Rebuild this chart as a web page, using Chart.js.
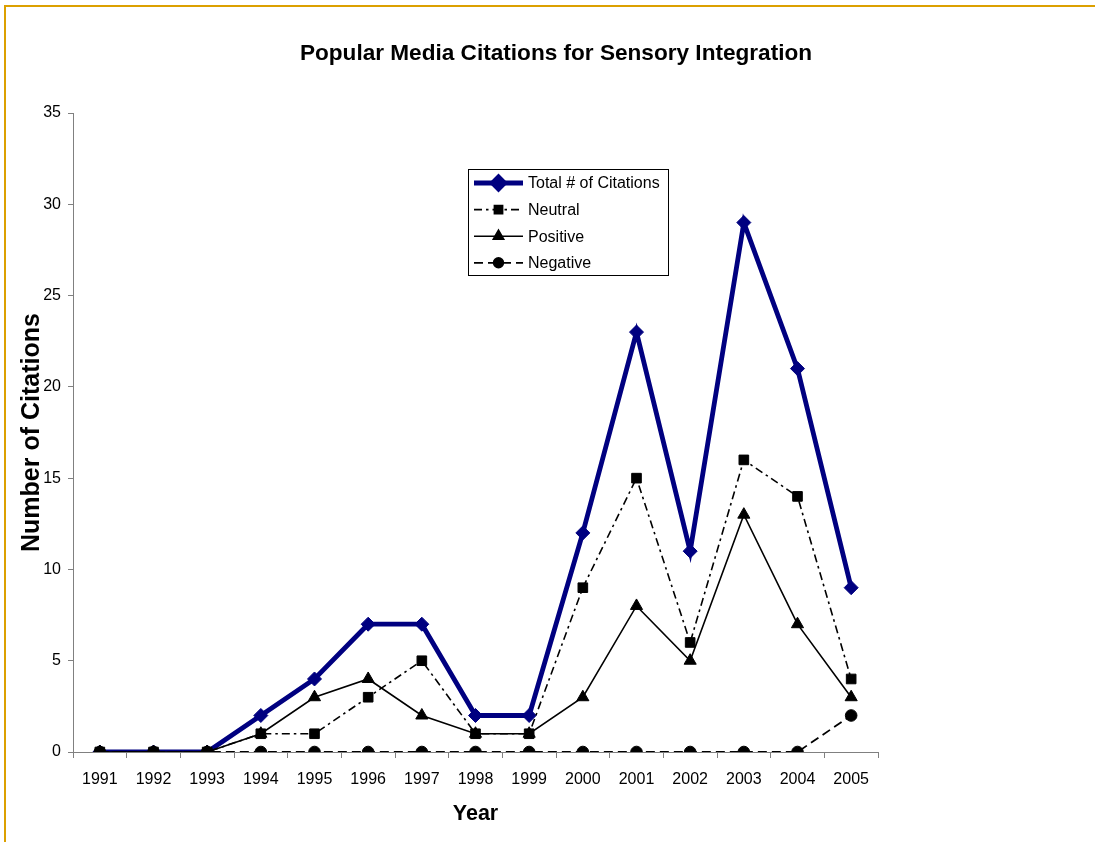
<!DOCTYPE html>
<html>
<head>
<meta charset="utf-8">
<title>Popular Media Citations for Sensory Integration</title>
<script src="https://cdn.jsdelivr.net/npm/chart.js@4/dist/chart.umd.min.js"></script>
<style>
  html, body { margin: 0; padding: 0; background: #ffffff; overflow: hidden; }
  #wrap { position: relative; width: 1095px; height: 842px; }
  #frame {
    position: absolute; left: 4px; top: 5px; width: 1200px; height: 1000px;
    border-left: 2px solid #DCA000; border-top: 2px solid #DCA000;
    pointer-events: none;
  }
  canvas { position: absolute; left: 0; top: 0; }
</style>
</head>
<body>
<div id="wrap">
  <canvas id="chart" width="1095" height="842"></canvas>
  <div id="frame"></div>
</div>
<script>
// Citation counts per year, by tone
const years = ['1991','1992','1993','1994','1995','1996','1997','1998','1999','2000','2001','2002','2003','2004','2005'];
const totalCitations = [0, 0, 0, 2, 4, 7, 7, 2, 2, 12, 23, 11, 29, 21, 9];
const neutralCitations = [0, 0, 0, 1, 1, 3, 5, 1, 1, 9, 15, 6, 16, 14, 4];
const positiveCitations = [0, 0, 0, 1, 3, 4, 2, 1, 1, 3, 8, 5, 13, 7, 3];
const negativeCitations = [0, 0, 0, 0, 0, 0, 0, 0, 0, 0, 0, 0, 0, 0, 2];
const seriesNames = ['Total # of Citations', 'Neutral', 'Positive', 'Negative'];
const yTicks = [0, 5, 10, 15, 20, 25, 30, 35];

const FONT = '"Liberation Sans", Arial, Helvetica, sans-serif';

// Legend drawn as a boxed list with a line sample and marker per series
const boxLegend = {
  id: 'boxLegend',
  afterDraw(chart) {
    const ctx = chart.ctx;
    const box = { x: 468.5, y: 169.5, w: 200, h: 106 };
    ctx.save();
    ctx.fillStyle = '#ffffff';
    ctx.fillRect(box.x, box.y, box.w, box.h);
    ctx.strokeStyle = '#000000';
    ctx.lineWidth = 1;
    ctx.setLineDash([]);
    ctx.strokeRect(box.x, box.y, box.w, box.h);
    chart.data.datasets.forEach((ds, i) => {
      const y = 183 + i * 26.6;
      ctx.save();
      ctx.strokeStyle = ds.borderColor;
      ctx.lineWidth = ds.borderWidth;
      ctx.setLineDash(ds.borderDash || []);
      ctx.beginPath();
      ctx.moveTo(474, y);
      ctx.lineTo(523, y);
      ctx.stroke();
      ctx.setLineDash([]);
      ctx.fillStyle = ds.pointBackgroundColor;
      ctx.strokeStyle = ds.pointBorderColor;
      Chart.helpers.drawPoint(ctx, {
        pointStyle: ds.pointStyle,
        radius: ds.pointRadius - 1,
        borderWidth: 1,
        rotation: 0
      }, 498.5, y);
      ctx.restore();
      ctx.fillStyle = '#000000';
      ctx.font = '16px ' + FONT;
      ctx.textBaseline = 'middle';
      ctx.textAlign = 'left';
      ctx.fillText(ds.label, 528, y + 1);
    });
    ctx.restore();
  }
};

const navy = '#000080';
const black = '#000000';

new Chart(document.getElementById('chart'), {
  type: 'line',
  data: {
    labels: years,
    datasets: [
      {
        label: seriesNames[0], data: totalCitations, order: 3,
        borderColor: navy, borderWidth: 4.8, tension: 0,
        pointStyle: 'rectRot', pointRadius: 7,
        pointBackgroundColor: navy, pointBorderColor: navy, pointBorderWidth: 1
      },
      {
        label: seriesNames[1], data: neutralCitations, order: 2,
        borderColor: black, borderWidth: 1.6, borderDash: [8, 4, 2.5, 4], tension: 0,
        pointStyle: 'rect', pointRadius: 6.8,
        pointBackgroundColor: black, pointBorderColor: black, pointBorderWidth: 1
      },
      {
        label: seriesNames[2], data: positiveCitations, order: 1,
        borderColor: black, borderWidth: 1.6, tension: 0,
        pointStyle: 'triangle', pointRadius: 7,
        pointBackgroundColor: black, pointBorderColor: black, pointBorderWidth: 1
      },
      {
        label: seriesNames[3], data: negativeCitations, order: 0,
        borderColor: black, borderWidth: 1.8, borderDash: [9, 5], tension: 0,
        pointStyle: 'circle', pointRadius: 5.8,
        pointBackgroundColor: black, pointBorderColor: black, pointBorderWidth: 1
      }
    ]
  },
  options: {
    responsive: false,
    animation: false,
    events: [],
    layout: { padding: { left: 17, right: 0, top: 0, bottom: 0 } },
    plugins: {
      legend: { display: false },
      tooltip: { enabled: false },
      title: {
        display: true,
        text: 'Popular Media Citations for Sensory Integration',
        color: '#000000',
        font: { family: FONT, size: 22.6, weight: 'bold', lineHeight: 1.2 },
        padding: { top: 40, bottom: 45.9 }
      }
    },
    scales: {
      x: {
        type: 'category',
        offset: true,
        grid: { display: true, drawOnChartArea: false, drawTicks: true, offset: true, tickLength: 6, color: '#808080' },
        border: { display: true, color: '#808080', width: 1 },
        ticks: { color: '#000000', font: { family: FONT, size: 16 }, padding: 12, maxRotation: 0, autoSkip: false },
        title: {
          display: true, text: 'Year', color: '#000000',
          font: { family: FONT, size: 21.5, weight: 'bold', lineHeight: 1.2 },
          padding: { top: 0, bottom: 15 }
        },
        afterFit(scale) { scale.height = 90; }
      },
      y: {
        min: 0, max: 35,
        afterBuildTicks(scale) { scale.ticks = yTicks.map(v => ({ value: v })); },
        grid: { display: true, drawOnChartArea: false, drawTicks: true, tickLength: 5, color: '#808080' },
        border: { display: true, color: '#808080', width: 1 },
        ticks: { color: '#000000', font: { family: FONT, size: 16 }, padding: 7 },
        title: {
          display: true, text: 'Number of Citations', color: '#000000',
          font: { family: FONT, size: 25, weight: 'bold', lineHeight: 1.2 },
          padding: { top: 0, bottom: 0 }
        },
        afterFit(scale) { scale.width = 56; }
      },
      yRight: {
        position: 'right',
        display: true,
        min: 0, max: 35,
        grid: { display: false },
        border: { display: false },
        ticks: { display: false },
        afterFit(scale) { scale.width = 217; }
      }
    }
  },
  plugins: [boxLegend]
});
</script>
</body>
</html>
